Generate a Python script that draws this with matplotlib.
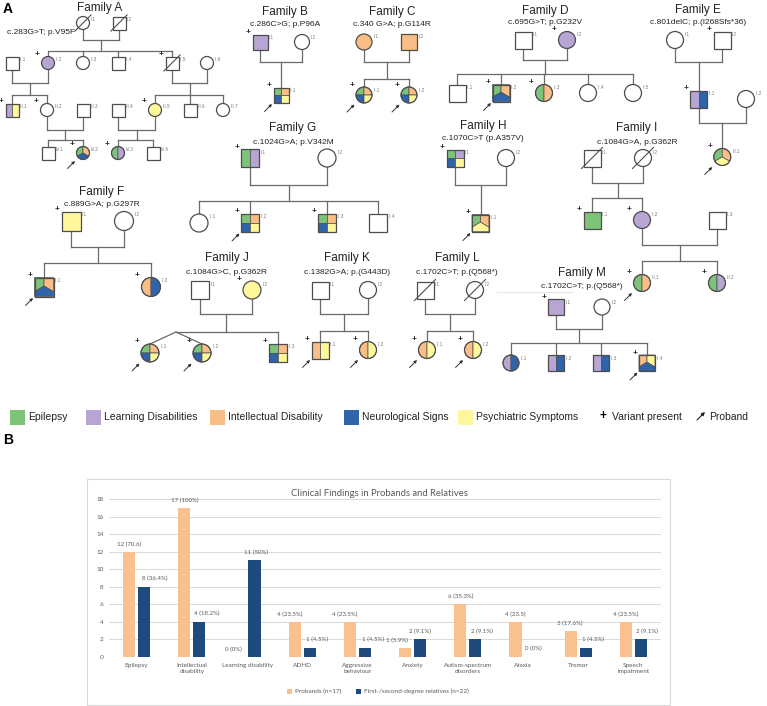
import matplotlib.pyplot as plt
from matplotlib.patches import Rectangle, Circle, Wedge, Polygon
import numpy as np

plt.rcParams['font.family'] = ['Liberation Sans', 'DejaVu Sans']

W, H = 767, 706

# ---------------- panel A data ----------------
TRAIT_KEYS = ["E", "L", "I", "N", "P"]
TRAIT_NAMES = ["Epilepsy", "Learning Disabilities", "Intellectual Disability",
               "Neurological Signs", "Psychiatric Symptoms"]
TRAIT_COLORS = {"E": "#7DC47A", "L": "#B7A5D3", "I": "#F9BD86",
                "N": "#2F63AA", "P": "#FFF79C"}

# members: (id, sex, traits, flags)   flags: + variant present, > proband, d deceased
MUT_A = "c.283G>T; p.V95F"
MEMBERS_A = [("I.1", "f", "", "d"), ("I.2", "m", "", "d"),
             ("II.1", "m", "", ""), ("II.2", "f", "L", "+"), ("II.3", "f", "", ""),
             ("II.4", "m", "", ""), ("II.5", "m", "", "+d"), ("II.6", "f", "", ""),
             ("III.1", "m", "LP", "+"), ("III.2", "f", "", "+"), ("III.3", "m", "", ""),
             ("III.4", "m", "", ""), ("III.5", "f", "P", "+"), ("III.6", "m", "", ""),
             ("III.7", "f", "", ""),
             ("IV.1", "m", "", ""), ("IV.2", "f", "EIN", "+>"), ("IV.3", "f", "EL", "+"),
             ("IV.4", "m", "", "")]
MUT_B = "c.286C>G; p.P96A"
MEMBERS_B = [("I.1", "m", "L", "+"), ("I.2", "f", "", ""), ("II.1", "m", "EINP", "+>")]
MUT_C = "c.340 G>A; p.G114R"
MEMBERS_C = [("I.1", "f", "I", ""), ("I.2", "m", "I", ""),
             ("II.1", "f", "EINP", "+>"), ("II.2", "f", "EINP", "+>")]
MUT_D = "c.695G>T; p.G232V"
MEMBERS_D = [("I.1", "m", "", ""), ("I.2", "f", "L", "+"),
             ("II.1", "m", "", ""), ("II.2", "m", "EIN", "+>"), ("II.3", "f", "EI", "+"),
             ("II.4", "f", "", ""), ("II.5", "f", "", "")]
MUT_E = "c.801delC; p.(I268Sfs*36)"
MEMBERS_E = [("I.1", "f", "", ""), ("I.2", "m", "", "+"),
             ("II.1", "m", "LN", "+"), ("II.2", "f", "", ""), ("III.1", "f", "EIP", "+>")]
MUT_F = "c.889G>A; p.G297R"
MEMBERS_F = [("I.1", "m", "P", "+"), ("I.2", "f", "", ""),
             ("II.1", "m", "EIN", "+>"), ("II.2", "f", "IN", "+")]
MUT_G = "c.1024G>A; p.V342M"
MEMBERS_G = [("I.1", "m", "EL", "+"), ("I.2", "f", "", ""),
             ("II.1", "f", "", ""), ("II.2", "m", "EINP", "+>"), ("II.3", "m", "EINP", "+"),
             ("II.4", "m", "", "")]
MUT_H = "c.1070C>T (p.A357V)"
MEMBERS_H = [("I.1", "m", "ELNP", "+"), ("I.2", "f", "", ""), ("II.1", "m", "EIP", "+>")]
MUT_I = "c.1084G>A, p.G362R"
MEMBERS_I = [("I.1", "m", "", "d"), ("I.2", "f", "", "d"),
             ("II.1", "m", "E", "+"), ("II.2", "f", "L", "+"), ("II.3", "m", "", ""),
             ("III.1", "f", "EI", "+>"), ("III.2", "f", "EL", "+")]
MUT_J = "c.1084G>C, p.G362R"
MEMBERS_J = [("I.1", "m", "", ""), ("I.2", "f", "P", "+"),
             ("II.1", "f", "EINP", "+>"), ("II.2", "f", "EINP", "+>"), ("II.3", "m", "EINP", "+")]
MUT_K = "c.1382G>A; p.(G443D)"
MEMBERS_K = [("I.1", "m", "", ""), ("I.2", "f", "", ""),
             ("II.1", "m", "IP", "+>"), ("II.2", "f", "IP", "+>")]
MUT_L = "c.1702C>T; p.(Q568*)"
MEMBERS_L = [("I.1", "m", "", "d"), ("I.2", "f", "", "d"),
             ("II.1", "f", "IP", "+>"), ("II.2", "f", "IP", "+>")]
MUT_M = "c.1702C>T; p.(Q568*)"
MEMBERS_M = [("I.1", "m", "L", "+"), ("I.2", "f", "", ""),
             ("II.1", "f", "LN", ""), ("II.2", "m", "LN", ""), ("II.3", "m", "LN", ""),
             ("II.4", "m", "IPN", "+>")]

# ---------------- panel B data ----------------
CATEGORIES = ["Epilepsy", "Intellectual\ndisability", "Learning disability", "ADHD",
              "Aggressive\nbehaviour", "Anxiety", "Autism-spectrum\ndisorders", "Ataxia",
              "Tremor", "Speech\nimpairment"]
PROBANDS = [12, 17, 0, 4, 4, 1, 6, 4, 3, 4]
RELATIVES = [8, 4, 11, 1, 1, 2, 2, 0, 1, 2]
PROBAND_LABELS = ["12 (70.6)", "17 (100%)", "0 (0%)", "4 (23.5%)", "4 (23.5%)", "1 (5.9%)",
                  "6 (35.3%)", "4 (23.5)", "3 (17.6%)", "4 (23.5%)"]
RELATIVE_LABELS = ["8 (36.4%)", "4 (18.2%)", "11 (50%)", "1 (4.5%)", "1 (4.5%)", "2 (9.1%)",
                   "2 (9.1%)", "0 (0%)", "1 (4.5%)", "2 (9.1%)"]

# ---------------- layout (pixels) ----------------
POS_A = {"I.1": (83, 23), "I.2": (119, 23),
         "II.1": (12, 63), "II.2": (48, 63), "II.3": (83, 63), "II.4": (118, 63),
         "II.5": (172, 63), "II.6": (207, 63),
         "III.1": (12, 110), "III.2": (47, 110), "III.3": (83, 110), "III.4": (118, 110),
         "III.5": (155, 110), "III.6": (190, 110), "III.7": (223, 110),
         "IV.1": (48, 153), "IV.2": (83, 153), "IV.3": (118, 153), "IV.4": (153, 153)}
UNIONS_A = [("I.1", "I.2", 40, 51, ["II.2", "II.3", "II.4", "II.5"]),
            ("II.1", "II.2", 83, 95, ["III.1", "III.2"]),
            ("II.5", "II.6", 83, 95, ["III.5", "III.6", "III.7"]),
            ("III.2", "III.3", 130, 140, ["IV.1", "IV.2"]),
            ("III.4", "III.5", 130, 140, ["IV.3", "IV.4"])]
POS_B = {"I.1": (260, 42), "I.2": (302, 42), "II.1": (281, 95)}
UNIONS_B = [("I.1", "I.2", 62, None, ["II.1"])]
POS_C = {"I.1": (364, 42), "I.2": (409, 42), "II.1": (364, 95), "II.2": (409, 95)}
UNIONS_C = [("I.1", "I.2", 62, 79, ["II.1", "II.2"])]
POS_D = {"I.1": (523, 40), "I.2": (567, 40), "II.1": (457, 93), "II.2": (501, 93),
         "II.3": (544, 93), "II.4": (588, 93), "II.5": (633, 93)}
UNIONS_D = [("I.1", "I.2", 60, 74, ["II.1", "II.2", "II.3", "II.4", "II.5"])]
POS_E = {"I.1": (675, 40), "I.2": (722, 40), "II.1": (698.5, 99), "II.2": (746, 99),
         "III.1": (722.25, 157)}
UNIONS_E = [("I.1", "I.2", 62, None, ["II.1"]), ("II.1", "II.2", 123, None, ["III.1"])]
POS_F = {"I.1": (71, 221), "I.2": (124, 221), "II.1": (44, 287), "II.2": (151, 287)}
UNIONS_F = [("I.1", "I.2", 247, 263, ["II.1", "II.2"])]
POS_G = {"I.1": (250, 158), "I.2": (327, 158), "II.1": (199, 223), "II.2": (250, 223),
         "II.3": (327, 223), "II.4": (378, 223)}
UNIONS_G = [("I.1", "I.2", 185, 201, ["II.1", "II.2", "II.3", "II.4"])]
POS_H = {"I.1": (455, 158), "I.2": (506, 158), "II.1": (480.5, 223)}
UNIONS_H = [("I.1", "I.2", 185, None, ["II.1"])]
POS_I = {"I.1": (592, 158), "I.2": (643, 158), "II.1": (592, 220), "II.2": (642, 220),
         "II.3": (717, 220), "III.1": (642, 283), "III.2": (717, 283)}
UNIONS_I = [("I.1", "I.2", 183, 198, ["II.1", "II.2"]),
            ("II.2", "II.3", 245, 261, ["III.1", "III.2"])]
POS_J = {"I.1": (200, 290), "I.2": (252, 290), "II.1": (150, 353), "II.2": (202, 353),
         "II.3": (278, 353)}
UNIONS_J = [("I.1", "I.2", 314, 332, ["II.1", "II.2", "II.3"])]
POS_K = {"I.1": (320, 290), "I.2": (368, 290), "II.1": (320, 350), "II.2": (368, 350)}
UNIONS_K = [("I.1", "I.2", 314, 331, ["II.1", "II.2"])]
POS_L = {"I.1": (425, 290), "I.2": (475, 290), "II.1": (427, 350), "II.2": (473, 350)}
UNIONS_L = [("I.1", "I.2", 314, 331, ["II.1", "II.2"])]
POS_M = {"I.1": (556, 307), "I.2": (602, 307), "II.1": (511, 363), "II.2": (556, 363),
         "II.3": (601, 363), "II.4": (647, 363)}
UNIONS_M = [("I.1", "I.2", 329, 343, ["II.1", "II.2", "II.3", "II.4"])]

# name, mutation, members, positions, unions, symbol size, title xy, mutation xy/ha, twins
FAMILIES = [
    ("Family A", MUT_A, MEMBERS_A, POS_A, UNIONS_A, 13, (100, 8), (7, 33, "left"), None),
    ("Family B", MUT_B, MEMBERS_B, POS_B, UNIONS_B, 15, (285, 12), (285, 24, "center"), None),
    ("Family C", MUT_C, MEMBERS_C, POS_C, UNIONS_C, 16, (392, 12), (392, 24, "center"), None),
    ("Family D", MUT_D, MEMBERS_D, POS_D, UNIONS_D, 17, (545, 11), (545, 23, "center"), None),
    ("Family E", MUT_E, MEMBERS_E, POS_E, UNIONS_E, 17, (698, 10), (698, 22, "center"), None),
    ("Family F", MUT_F, MEMBERS_F, POS_F, UNIONS_F, 19, (102, 192), (102, 204, "center"), None),
    ("Family G", MUT_G, MEMBERS_G, POS_G, UNIONS_G, 18, (293, 128), (293, 142, "center"), None),
    ("Family H", MUT_H, MEMBERS_H, POS_H, UNIONS_H, 17, (483, 126), (483, 138, "center"), None),
    ("Family I", MUT_I, MEMBERS_I, POS_I, UNIONS_I, 17, (637, 128), (637, 143, "center"), None),
    ("Family J", MUT_J, MEMBERS_J, POS_J, UNIONS_J, 18, (227, 258), (227, 272, "center"),
     ("II.1", "II.2")),
    ("Family K", MUT_K, MEMBERS_K, POS_K, UNIONS_K, 17, (347, 258), (347, 272, "center"), None),
    ("Family L", MUT_L, MEMBERS_L, POS_L, UNIONS_L, 17, (457, 258), (457, 272, "center"), None),
    ("Family M", MUT_M, MEMBERS_M, POS_M, UNIONS_M, 16, (582, 273), (582, 286, "center"), None),
]

LINE = "#6a6a6a"
EDGE = "#4d4d4d"
ORANGE = "#F9C18F"
NAVY = "#1F4A7E"
GREY_TXT = "#595959"


def wedge(ax, x, y, r, a1, a2, color):
    # screen angles -> data angles (y axis is inverted)
    ax.add_patch(Wedge((x, y), r, -a2, -a1, fc=color, ec=EDGE, lw=0.5, zorder=3))


def draw_person(ax, x, y, s, sex, traits, flags, label):
    h = s / 2
    cols = [TRAIT_COLORS[t] for t in traits]
    n = len(cols)
    if sex == "m":
        ax.add_patch(Rectangle((x - h, y - h), s, s, fc="white", ec="none", zorder=2))
        if n == 1:
            ax.add_patch(Rectangle((x - h, y - h), s, s, fc=cols[0], ec="none", zorder=3))
        elif n == 2:
            ax.add_patch(Rectangle((x - h, y - h), h, s, fc=cols[0], ec=EDGE, lw=0.5, zorder=3))
            ax.add_patch(Rectangle((x, y - h), h, s, fc=cols[1], ec=EDGE, lw=0.5, zorder=3))
        elif n == 3:
            ya = y - 0.05 * s
            yside = y + 0.25 * s
            polys = [[(x - h, y - h), (x, y - h), (x, ya), (x - h, yside)],
                     [(x, y - h), (x + h, y - h), (x + h, yside), (x, ya)],
                     [(x - h, yside), (x, ya), (x + h, yside), (x + h, y + h), (x - h, y + h)]]
            for p, c in zip(polys, cols):
                ax.add_patch(Polygon(p, closed=True, fc=c, ec=EDGE, lw=0.5, zorder=3))
        elif n == 4:
            for (dx, dy), c in zip([(-h, -h), (0, -h), (-h, 0), (0, 0)], cols):
                ax.add_patch(Rectangle((x + dx, y + dy), h, h, fc=c, ec=EDGE, lw=0.5, zorder=3))
        ax.add_patch(Rectangle((x - h, y - h), s, s, fc="none", ec=EDGE, lw=0.9, zorder=4))
    else:
        ax.add_patch(Circle((x, y), h, fc="white", ec="none", zorder=2))
        if n == 1:
            ax.add_patch(Circle((x, y), h, fc=cols[0], ec="none", zorder=3))
        elif n == 2:
            wedge(ax, x, y, h, 90, 270, cols[0])
            wedge(ax, x, y, h, -90, 90, cols[1])
        elif n == 3:
            wedge(ax, x, y, h, 90, 210, cols[0])
            wedge(ax, x, y, h, -30, 90, cols[1])
            wedge(ax, x, y, h, 210, 330, cols[2])
        elif n == 4:
            for (a1, a2), c in zip([(90, 180), (0, 90), (180, 270), (270, 360)], cols):
                wedge(ax, x, y, h, a1, a2, c)
        ax.add_patch(Circle((x, y), h, fc="none", ec=EDGE, lw=0.9, zorder=4))
    if "d" in flags:
        k = 0.62 * s
        ax.plot([x - k, x + k], [y + k, y - k], color=EDGE, lw=0.8, zorder=5)
    if "+" in flags:
        ax.text(x - h - 4, y - h - 2, "+", fontsize=6, fontweight="bold",
                ha="center", va="center", color="#222222", zorder=5)
    if ">" in flags:
        ax.annotate("", xy=(x - h - 1.5, y + h + 1.5), xytext=(x - h - 9, y + h + 9),
                    arrowprops=dict(arrowstyle="-|>", color="#333333", lw=0.7,
                                    mutation_scale=4, shrinkA=0, shrinkB=0), zorder=5)
    ax.text(x + h + 1.5, y - h + 3, label, fontsize=3.3, color="#777777",
            ha="left", va="center", zorder=5)


def draw_union(ax, pos, s, a, b, yc, ys, kids, twins):
    h = s / 2
    (xa, ya), (xb, yb) = pos[a], pos[b]
    kw = dict(color=LINE, lw=0.9, zorder=1)
    ax.plot([xa, xa], [ya + h, yc], **kw)
    ax.plot([xb, xb], [yb + h, yc], **kw)
    ax.plot([xa, xb], [yc, yc], **kw)
    xm = (xa + xb) / 2
    if ys is None:
        ax.plot([xm, xm], [yc, pos[kids[0]][1] - h], **kw)
        return
    ax.plot([xm, xm], [yc, ys], **kw)
    xs = []
    for k in kids:
        if twins and k in twins:
            continue
        xs.append(pos[k][0])
        ax.plot([pos[k][0]] * 2, [ys, pos[k][1] - h], **kw)
    if twins:
        xt = np.mean([pos[t][0] for t in twins])
        xs.append(xt)
        for t in twins:
            ax.plot([xt, pos[t][0]], [ys, pos[t][1] - h], **kw)
    ax.plot([min(xs + [xm]), max(xs + [xm])], [ys, ys], **kw)


fig = plt.figure(figsize=(W / 100, H / 100), dpi=100)
ax = fig.add_axes([0, 0, 1, 1])
ax.set_xlim(0, W)
ax.set_ylim(H, 0)
ax.axis("off")

ax.text(3, 9, "A", fontsize=10, fontweight="bold", ha="left", va="center")
ax.text(3, 440, "B", fontsize=10, fontweight="bold", ha="left", va="center")

for name, mut, members, pos, unions, s, tpos, mpos, twins in FAMILIES:
    ax.text(tpos[0], tpos[1], name, fontsize=8.5, ha="center", va="center", color="#222222")
    ax.text(mpos[0], mpos[1], mut, fontsize=6, ha=mpos[2], va="center", color="#222222")
    for a, b, yc, ys, kids in unions:
        draw_union(ax, pos, s, a, b, yc, ys, kids, twins)
    for pid, sex, traits, flags in members:
        x, y = pos[pid]
        draw_person(ax, x, y, s, sex, traits, flags, pid)

# faint stray line near Family M
ax.plot([497, 572], [292, 292], color="#e6e6e6", lw=0.8, zorder=0)

# panel A legend
leg_sq_x = [10, 86, 210, 344, 458]
for key, name, sx in zip(TRAIT_KEYS, TRAIT_NAMES, leg_sq_x):
    ax.add_patch(Rectangle((sx, 409.5), 15, 15, fc=TRAIT_COLORS[key], ec="none"))
    ax.text(sx + 18, 417, name, fontsize=7.5, ha="left", va="center", color="#222222")
ax.text(603, 416, "+", fontsize=8.5, fontweight="bold", ha="center", va="center")
ax.text(612, 417, "Variant present", fontsize=7.5, ha="left", va="center", color="#222222")
ax.annotate("", xy=(705, 412), xytext=(697, 420),
            arrowprops=dict(arrowstyle="-|>", color="#222222", lw=0.8, mutation_scale=5,
                            shrinkA=0, shrinkB=0))
ax.text(709, 417, "Proband", fontsize=7.5, ha="left", va="center", color="#222222")

# ---------------- panel B ----------------
ax.add_patch(Rectangle((87, 479), 583, 226, fc="white", ec="#D9D9D9", lw=0.8))
fig.text(379 / W, 1 - 493 / H, "Clinical Findings in Probands and Relatives",
         fontsize=6.8, family=["Lato", "DejaVu Sans"], color=GREY_TXT, ha="center", va="center")

bx = fig.add_axes([109 / W, 1 - 657 / H, 552 / W, 158 / H])
bx.patch.set_alpha(0)
xc = np.arange(len(CATEGORIES))
bw = 0.22
bx.bar(xc - 0.135, PROBANDS, bw, color=ORANGE, zorder=3)
bx.bar(xc + 0.135, RELATIVES, bw, color=NAVY, zorder=3)
bx.set_xlim(-0.5, len(CATEGORIES) - 0.5)
bx.set_ylim(0, 18)
bx.set_yticks(range(0, 19, 2))
bx.set_xticks(xc)
bx.set_xticklabels(CATEGORIES, linespacing=1.4)
bx.yaxis.grid(True, color="#D9D9D9", lw=0.7, zorder=0)
bx.set_axisbelow(True)
for sp in bx.spines.values():
    sp.set_visible(False)
bx.tick_params(length=0, labelsize=4.6, colors=GREY_TXT, pad=4)
for t in bx.get_xticklabels() + bx.get_yticklabels():
    t.set_family(["Lato", "DejaVu Sans"])

# data label horizontal nudges (px)
pro_dx = [0, 0, -6, -5, -5, -8, 0, 0, -1, 0]
rel_dx = [11, 7, 2, 7, 8, 0, 7, 3, 7, 6]
for i in range(len(CATEGORIES)):
    bx.annotate(PROBAND_LABELS[i], (xc[i] - 0.135, PROBANDS[i]),
                xytext=(pro_dx[i] * 0.72, 5.5), textcoords="offset points",
                ha="center", va="center", fontsize=4.4, color=GREY_TXT,
                family=["Lato", "DejaVu Sans"])
    bx.annotate(RELATIVE_LABELS[i], (xc[i] + 0.135, RELATIVES[i]),
                xytext=(rel_dx[i] * 0.72, 6), textcoords="offset points",
                ha="center", va="center", fontsize=4.4, color=GREY_TXT,
                family=["Lato", "DejaVu Sans"])

# panel B legend
ax.add_patch(Rectangle((287, 688.5), 5, 5, fc=ORANGE, ec="none"))
ax.text(295, 691, "Probands (n=17)", fontsize=4.6, ha="left", va="center", color=GREY_TXT,
        family=["Lato", "DejaVu Sans"])
ax.add_patch(Rectangle((356, 688.5), 5, 5, fc=NAVY, ec="none"))
ax.text(364, 691, "First-/second-degree relatives (n=22)", fontsize=4.6, ha="left",
        va="center", color=GREY_TXT, family=["Lato", "DejaVu Sans"])

fig.savefig("out.png", dpi=100)
